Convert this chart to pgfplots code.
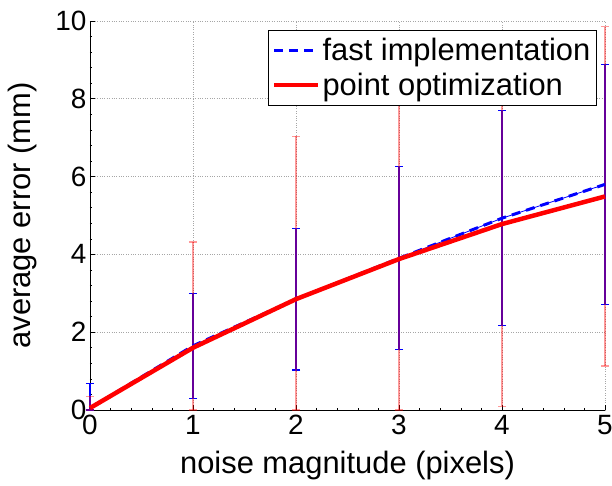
\documentclass[border=0pt]{standalone}
\usepackage{fontspec}
\setmainfont{Liberation Sans}
\usepackage{pgfplots}
\pgfplotsset{compat=1.18}

% means, upper and lower half-widths (lower ones stop at the x axis)
\pgfplotstableread{
x   fm    fp    fn    pm    pp    pn
0   0.05  0.64  0.05  0.05  0.30  0.05
1   1.65  1.35  1.35  1.60  2.72  1.60
2   2.85  1.82  1.82  2.85  4.19  2.85
3   3.90  2.35  2.35  3.88  4.60  3.88
4   4.93  2.76  2.76  4.78  4.69  4.69
5   5.80  3.09  3.09  5.49  4.36  4.36
}\errdata

\begin{document}
\begin{tikzpicture}
\begin{axis}[
  scale only axis,
  width=515bp, height=389bp,
  xmin=0, xmax=5, ymin=0, ymax=10,
  clip=false,
  xtick={0,...,5}, ytick={0,2,...,10},
  axis x line*=bottom, axis y line*=left,
  axis line style={-, black, line width=0.8pt},
  tick align=inside, major tick length=5bp,
  minor tick num=4, minor tick length=2bp,
  tick style={black, line width=0.6pt},
  grid=major,
  major grid style={gray!70, dotted, line width=0.8pt},
  /pgf/number format/assume math mode=true,
  ticklabel style={font=\fontsize{28}{32}\selectfont},
  xticklabel style={yshift=-2bp},
  label style={font=\fontsize{31}{35}\selectfont},
  xlabel={noise magnitude (pixels)},
  xlabel style={at={(axis description cs:0.5,0)}, anchor=center, yshift=-56bp},
  ylabel={average error (mm)},
  ylabel style={at={(axis description cs:-0.132,0.5)}, anchor=center},
  legend style={font=\fontsize{31}{35}\selectfont, at={(0.984,0.977)}, anchor=north east,
    draw=black, fill=white, line width=0.8pt, inner xsep=4bp, inner ysep=6bp, row sep=7bp},
  legend cell align=left,
  legend image code/.code={\draw[#1] (0bp,0bp) -- (44bp,0bp);},
]
% error bars, fast implementation
\addplot[blue, line width=0.8pt, forget plot,
  error bars/.cd, y dir=both, y explicit,
  error bar style={blue, line width=1.2pt},
  error mark options={rotate=90, mark size=4bp, blue, line width=1.2pt}]
  table[x=x, y=fm, y error plus=fp, y error minus=fn] {\errdata};
% error bars, point optimization
\addplot[draw=none, forget plot,
  error bars/.cd, y dir=both, y explicit,
  error bar style={red, opacity=0.4, line width=1.2pt},
  error mark options={rotate=90, mark size=4bp, red, opacity=0.4, line width=1.2pt}]
  table[x=x, y=pm, y error plus=pp, y error minus=pn] {\errdata};
\addplot[blue, line width=3pt, dash pattern=on 9bp off 6bp] table[x=x, y=fm] {\errdata};
\addlegendentry{fast implementation}
\addplot[red, line width=4.5pt] table[x=x, y=pm] {\errdata};
\addlegendentry{point optimization}
\end{axis}
\pgfresetboundingbox
\path (current axis.south west) ++(-90bp,-76bp) rectangle ++(612bp,486bp);
\end{tikzpicture}
\end{document}
